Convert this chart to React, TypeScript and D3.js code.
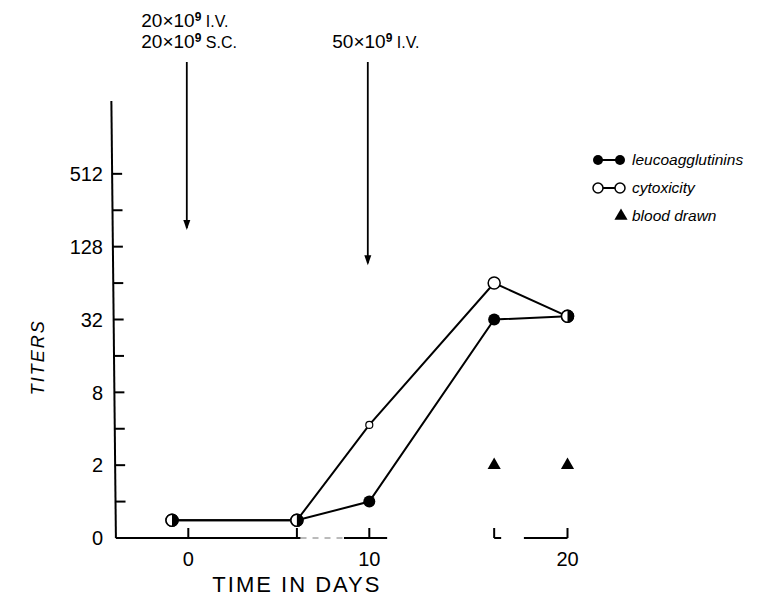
import React from "react";
import * as d3 from "d3";

// ---- data ----
const days = [-0.9, 6, 10, 16.3, 20];
const leucoagglutinins = [0.7, 0.7, 1, 32, 34];
const cytotoxicity = [0.7, 0.7, 4.3, 64, 34];
// marker kind per point for each series
const leucoMarkers = ["half", "half", "filled", "filled", "half"];
const cytoMarkers = ["half", "half", "small", "open", "half"];
const bloodDrawnDays = [16.3, 20];
const bloodDrawnValues = [2, 2];
const yMajorTicks = [0.5, 2, 8, 32, 128, 512];
const yMajorLabels = ["0", "2", "8", "32", "128", "512"];
const yMinorTicks = [1, 4, 16, 64, 256];
const xTicks = [0, 6, 10, 16.3, 20];
const xTickLabels = [
  { day: 0, label: "0" },
  { day: 10, label: "10" },
  { day: 20, label: "20" },
];
const injectionDays = [0, 10];
const injectionArrowEnds = [176, 90];
const injectionLines = [
  [
    { mant: "20×10", exp: "9", tail: " I.V." },
    { mant: "20×10", exp: "9", tail: " S.C." },
  ],
  [{ mant: "50×10", exp: "9", tail: " I.V." }],
];
const xAxisSolidSegments = [
  [-4, 6.2],
  [8.6, 10.9],
  [17.8, 20],
];
const xAxisFaintSegments = [[6.2, 8.6]];
const legendItems = [
  { kind: "filled", label: "leucoagglutinins" },
  { kind: "open", label: "cytoxicity" },
  { kind: "triangle", label: "blood drawn" },
];

// layout constants
const injectionTextOffsets = [-47, -37];
const FONT = "'Liberation Sans', Arial, sans-serif";

function Marker({ kind, cx, cy, r = 6 }: { kind: string; cx: number; cy: number; r?: number }) {
  if (kind === "filled") return <circle cx={cx} cy={cy} r={r} fill="#000" />;
  if (kind === "open")
    return <circle cx={cx} cy={cy} r={r} fill="#fff" stroke="#000" strokeWidth={1.5} />;
  if (kind === "small")
    return <circle cx={cx} cy={cy} r={3.5} fill="#fff" stroke="#000" strokeWidth={1.2} />;
  const arc = d3.arc()({
    innerRadius: 0,
    outerRadius: r,
    startAngle: 0,
    endAngle: Math.PI,
  } as any) as string;
  return (
    <g>
      <circle cx={cx} cy={cy} r={r} fill="#fff" stroke="#000" strokeWidth={1.5} />
      <path d={arc} transform={`translate(${cx},${cy})`} fill="#000" />
    </g>
  );
}

export default function App() {
  const W = 769;
  const H = 601;
  const x = d3.scaleLinear().domain([0, 10, 20]).range([188.3, 369.3, 567.5]);
  const y = d3.scaleLog().base(2).domain([0.5, 2048]).range([538, 101]);

  const line = d3
    .line<[number, number]>()
    .x((d) => x(d[0]))
    .y((d) => y(d[1]));

  const leucoPts = days.map((d, i) => [d, leucoagglutinins[i]] as [number, number]);
  const cytoPts = days.map((d, i) => [d, cytotoxicity[i]] as [number, number]);

  const axisX0 = x(-4);
  const axisTopX = x(-4.25);
  const axisYBottom = y(0.5);
  const tri = d3.symbol().type(d3.symbolTriangle).size(75)() as string;

  return (
    <svg
      width={W}
      height={H}
      style={{ position: "absolute", left: 0, top: 0, background: "#fff" }}
      fontFamily={FONT}
    >
      <rect x={0} y={0} width={W} height={H} fill="#fff" />
      {/* y axis */}
      <line x1={axisTopX} y1={y(2048)} x2={axisX0} y2={axisYBottom} stroke="#000" strokeWidth={2} />
      {yMajorTicks.concat(yMinorTicks).map((t) => {
        const frac = (y(t) - y(2048)) / (axisYBottom - y(2048));
        const ax = axisTopX + frac * (axisX0 - axisTopX);
        return (
          <line key={"yt" + t} x1={ax} x2={ax + 10} y1={y(t)} y2={y(t)} stroke="#000" strokeWidth={2} />
        );
      })}
      {yMajorTicks.map((t, i) => (
        <text key={"yl" + t} x={103} y={y(t)} dy="0.36em" textAnchor="end" fontSize={20}>
          {yMajorLabels[i]}
        </text>
      ))}
      <text
        transform={`translate(44,${y(8) - 35}) rotate(-90)`}
        textAnchor="middle"
        fontSize={18}
        fontStyle="italic"
        letterSpacing={2}
      >
        TITERS
      </text>

      {/* x axis (broken, faded print) */}
      {xAxisSolidSegments.map((s, i) => (
        <line key={"xs" + i} x1={x(s[0])} x2={x(s[1])} y1={axisYBottom} y2={axisYBottom} stroke="#000" strokeWidth={2} />
      ))}
      {xAxisFaintSegments.map((s, i) => (
        <line
          key={"xf" + i}
          x1={x(s[0])}
          x2={x(s[1])}
          y1={axisYBottom}
          y2={axisYBottom}
          stroke="#777"
          strokeWidth={1}
          strokeDasharray="6,6"
        />
      ))}
      {xTicks.map((t) => (
        <line key={"xt" + t} x1={x(t)} x2={x(t)} y1={axisYBottom} y2={axisYBottom - 10} stroke="#000" strokeWidth={2} />
      ))}
      <line x1={x(16.3)} x2={x(16.3) + 7} y1={axisYBottom} y2={axisYBottom} stroke="#000" strokeWidth={2} />
      {xTickLabels.map((t) => (
        <text key={"xl" + t.day} x={x(t.day)} y={566} textAnchor="middle" fontSize={20}>
          {t.label}
        </text>
      ))}
      <text x={x(6)} y={592} textAnchor="middle" fontSize={22} letterSpacing={2}>
        TIME IN DAYS
      </text>

      {/* series lines */}
      <path d={line(cytoPts) as string} fill="none" stroke="#000" strokeWidth={2} />
      <path d={line(leucoPts) as string} fill="none" stroke="#000" strokeWidth={2} />
      {cytoPts.map((p, i) => (
        <Marker key={"cm" + i} kind={cytoMarkers[i]} cx={x(p[0])} cy={y(p[1])} />
      ))}
      {leucoPts.map((p, i) => (
        <Marker key={"lm" + i} kind={leucoMarkers[i]} cx={x(p[0])} cy={y(p[1])} />
      ))}
      {bloodDrawnDays.map((d, i) => (
        <path key={"bd" + i} d={tri} transform={`translate(${x(d)},${y(bloodDrawnValues[i])})`} fill="#000" />
      ))}

      {/* injection arrows */}
      {injectionDays.map((d, i) => {
        const ax = x(d) - 1.5;
        const yEnd = y(injectionArrowEnds[i]);
        return (
          <g key={"inj" + i}>
            <line x1={ax} x2={ax} y1={62} y2={yEnd - 2} stroke="#000" strokeWidth={1.8} />
            <path d={`M${ax - 3.5},${yEnd - 10} L${ax},${yEnd} L${ax + 3.5},${yEnd - 10} Z`} fill="#000" />
          </g>
        );
      })}
      {injectionLines.map((lines, i) =>
        lines.map((ln, j) => {
          const n = lines.length;
          const baseY = 48 - (n - 1 - j) * 21;
          return (
            <text
              key={"it" + i + "-" + j}
              x={x(injectionDays[i]) + injectionTextOffsets[i]}
              y={baseY}
              fontSize={19}
            >
              <tspan>{ln.mant}</tspan>
              <tspan dy={-6} fontSize={12} fontWeight="bold">
                {ln.exp}
              </tspan>
              <tspan dy={6} fontSize={16}>
                {ln.tail}
              </tspan>
            </text>
          );
        })
      )}

      {/* legend */}
      {legendItems.map((it, i) => {
        const ly = 160 + i * 28;
        return (
          <g key={"lg" + i}>
            {it.kind !== "triangle" ? (
              <g>
                <line x1={598} x2={620} y1={ly} y2={ly} stroke="#000" strokeWidth={2} />
                <Marker kind={it.kind} cx={598} cy={ly} r={5} />
                <Marker kind={it.kind} cx={620} cy={ly} r={5} />
              </g>
            ) : (
              <path d={tri} transform={`translate(621,${ly})`} fill="#000" />
            )}
            <text x={632} y={ly} dy="0.35em" fontSize={15.5} fontStyle="italic">
              {it.label}
            </text>
          </g>
        );
      })}
    </svg>
  );
}
